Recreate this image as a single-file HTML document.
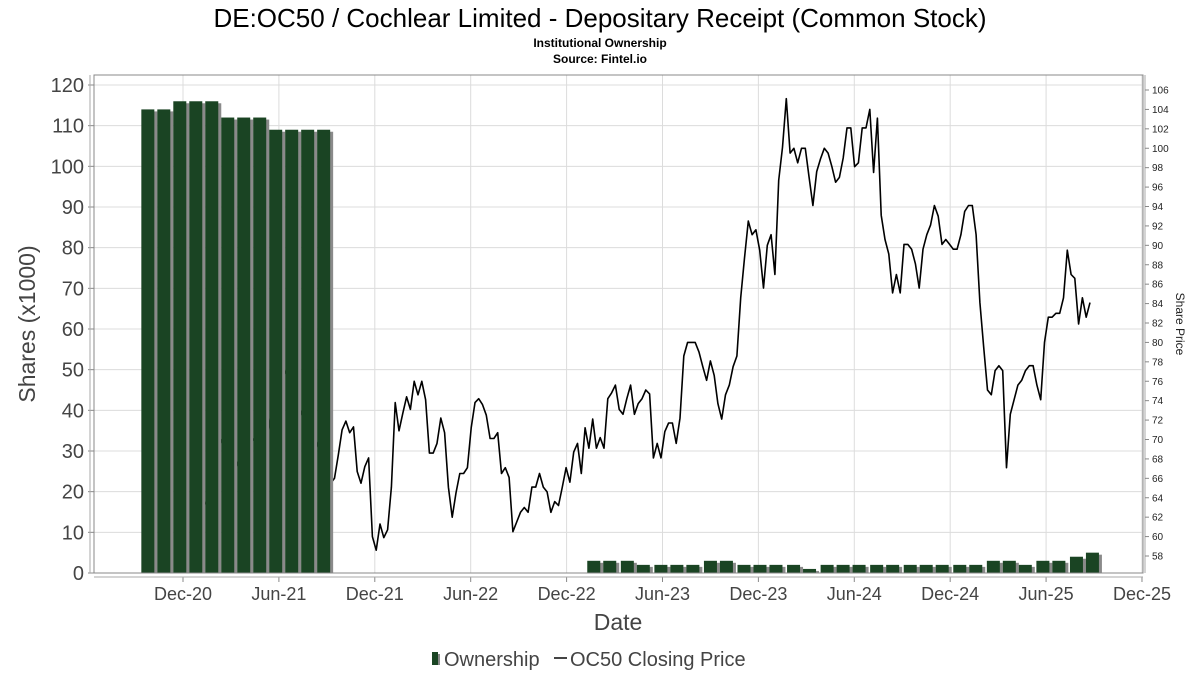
<!DOCTYPE html>
<html><head><meta charset="utf-8">
<style>
body{margin:0;background:#fff;}
svg{display:block;font-family:"Liberation Sans","DejaVu Sans",sans-serif;}
</style></head>
<body>
<svg id="chart" width="1200" height="675" viewBox="0 0 1200 675">
<text x="600" y="27" text-anchor="middle" font-size="26" fill="#000">DE:OC50 / Cochlear Limited - Depositary Receipt (Common Stock)</text>
<text x="600" y="47" text-anchor="middle" font-size="12" font-weight="bold" fill="#000">Institutional Ownership</text>
<text x="600" y="63" text-anchor="middle" font-size="12" font-weight="bold" fill="#000">Source: Fintel.io</text>
<g id="grid"></g>
<g id="line"></g>
<g id="bars"></g>
<rect x="94" y="75" width="1049" height="498" fill="none" stroke="#888" stroke-width="1"/>
<g id="axes"></g>
<text transform="translate(35,324) rotate(-90)" text-anchor="middle" font-size="23" fill="#444">Shares (x1000)</text>
<text transform="translate(1176,324) rotate(90)" text-anchor="middle" font-size="12" fill="#222">Share Price</text>
<text x="618" y="630" text-anchor="middle" font-size="23" fill="#444">Date</text>
<g>
<g>
<rect x="432" y="652" width="6" height="13" fill="#1a4423"/>
<rect x="438" y="654" width="2" height="11" fill="#888"/>
<text x="444" y="666" font-size="20" fill="#444">Ownership</text>
</g>
<g>
<line x1="554" y1="658" x2="567" y2="658" stroke="#444" stroke-width="2"/>
<text x="570" y="666" font-size="20" fill="#444">OC50 Closing Price</text>
</g>
</g>
</svg>
<script>
// x domain in months relative to Dec-2020
const xTickLabels = ["Dec-20","Jun-21","Dec-21","Jun-22","Dec-22","Jun-23","Dec-23","Jun-24","Dec-24","Jun-25","Dec-25"];
const xTickMonths = [0,6,12,18,24,30,36,42,48,54,60];
const yTicks = [0,10,20,30,40,50,60,70,80,90,100,110,120];
const y2Ticks = [58,60,62,64,66,68,70,72,74,76,78,80,82,84,86,88,90,92,94,96,98,100,102,104,106];
const barMonths = [-2.2,-1.2,-0.2,0.8,1.8,2.8,3.8,4.8,5.8,6.8,7.8,8.8,
 25.7,26.7,27.8,28.8,29.9,30.9,31.9,33.0,34.0,35.1,36.1,37.1,38.2,39.2,40.3,41.3,42.3,43.4,44.4,45.5,46.5,47.5,48.6,49.6,50.7,51.7,52.7,53.8,54.8,55.9,56.9];
const barValues = [114,114,116,116,116,112,112,112,109,109,109,109,
 3,3,3,2,2,2,2,3,3,2,2,2,2,1,2,2,2,2,2,2,2,2,2,2,3,3,2,3,3,4,5];
const priceStartMonth = 1.4;
const priceEndMonth = 56.75;
const prices = [63.3,64.8,66.9,68.7,70.0,69.1,68.4,67.7,67.1,68.1,68.9,69.7,70.3,69.8,69.4,69.6,69.7,72.0,74.1,76.1,77.5,77.0,76.1,75.1,74.4,73.0,72.0,71.2,70.8,70.0,68.9,67.4,
66.0,65.5,66.0,68.4,71.0,71.9,70.7,71.3,66.7,65.5,67.2,68.1,60.0,58.6,61.3,59.9,60.7,65.1,73.8,70.9,72.7,74.4,73.1,76.0,74.6,76.0,74.1,68.6,68.6,69.6,72.2,70.7,65.1,62.0,64.5,66.5,66.5,67.1,71.2,73.8,74.2,73.6,72.5,70.1,70.1,70.7,66.5,67.1,66.1,60.5,61.5,62.5,63.0,62.5,65.1,65.1,66.5,65.1,64.6,62.5,63.6,63.2,65.1,67.1,65.6,68.7,
69.6,66.5,71.2,69.1,72.1,69.1,70.2,69.1,74.2,74.8,75.6,73.1,72.6,74.2,75.6,72.6,73.7,74.2,75.1,74.7,68.1,69.6,68.1,70.8,71.7,71.7,69.6,72.2,78.6,80.0,80.0,80.0,79.0,77.5,76.1,78.1,76.6,73.7,72.1,74.6,75.6,77.5,78.6,84.6,88.7,92.5,91.1,91.6,89.5,85.6,90.0,91.1,87.0,96.7,100.1,105.1,99.5,100.0,98.5,100.0,100.0,97.0,94.1,97.6,98.9,100.0,99.5,98.1,96.5,97.0,99.0,102.1,102.1,98.1,98.5,102.1,102.1,104.0,97.5,103.1,93.1,90.6,89.1,85.1,87.0,85.1,90.1,90.1,89.6,88.1,85.6,89.6,91.1,92.1,94.1,93.0,90.1,90.6,90.1,89.6,89.6,91.1,93.5,94.1,94.1,91.1,84.1,79.5,75.1,74.6,77.1,77.6,77.1,67.1,72.6,74.1,75.6,76.1,77.1,77.6,77.6,75.6,74.1,80.0,82.6,82.6,83.0,83.0,84.6,89.5,87.0,86.6,81.9,84.6,82.6,84.1];

const NS="http://www.w3.org/2000/svg";
const PL=94, PR=1143, PT=75, PB=573;
function xs(m){return 183 + m*15.983;}
function ys(v){return 573 - v*(488/120);}
function ys2(p){return 556 - (p-58)*(466/48);}
function mk(tag, attrs, parent){const e=document.createElementNS(NS,tag);for(const k in attrs)e.setAttribute(k,attrs[k]);parent.appendChild(e);return e;}

const grid=document.getElementById('grid');
const axes=document.getElementById('axes');
yTicks.forEach(function(v){
  const y=ys(v);
  const gl=mk('line',{x1:PL,x2:PR,y1:y,y2:y,stroke:'#dcdcdc','stroke-width':1},grid);
  
  
  const t=mk('text',{x:84,y:y+7,'text-anchor':'end','font-size':20,fill:'#444'},axes);
  t.textContent=v;
  
  
  const tk=mk('line',{x1:88,x2:94,y1:y,y2:y,stroke:'#888'},axes);
  
  
});
xTickMonths.forEach(function(m,i){
  const x=xs(m);
  const gl=mk('line',{x1:x,x2:x,y1:PT,y2:PB,stroke:'#dcdcdc','stroke-width':1},grid);
  
  
  const t=mk('text',{x:x,y:600,'text-anchor':'middle','font-size':18,fill:'#444'},axes);
  t.textContent=xTickLabels[i];
  
  
  const tk=mk('line',{x1:x,x2:x,y1:577,y2:582,stroke:'#888'},axes);
  
  
});
const xl=mk('line',{x1:PL,x2:PR,y1:577,y2:577,stroke:'#aaa'},axes);


const yl=mk('line',{x1:90,x2:90,y1:PT,y2:PB,stroke:'#aaa'},axes);


const y2l=mk('line',{x1:1145,x2:1145,y1:PT,y2:PB,stroke:'#aaa'},axes);


y2Ticks.forEach(function(p){
  const y=ys2(p);
  const t=mk('text',{x:1152,y:y+3.5,'font-size':10,fill:'#222'},axes);
  t.textContent=p;
  
  
  const tk=mk('line',{x1:1145,x2:1149,y1:y,y2:y,stroke:'#888'},axes);
  
  
});

// price line
const n=prices.length;
const step=(priceEndMonth-priceStartMonth)/(n-1);
let d='';
prices.forEach(function(p,i){
  const x=xs(priceStartMonth+i*step), y=ys2(p);
  d+=(i?'L':'M')+x.toFixed(1)+','+y.toFixed(1);
});
const path=mk('path',{d:d,fill:'none',stroke:'#000','stroke-width':1.6,'stroke-linejoin':'round'},document.getElementById('line'));



// bars
const bg=document.getElementById('bars');
barMonths.forEach(function(m,i){
  const cx=xs(m), top=ys(barValues[i]), bw=13;
  const sh=mk('rect',{x:cx-bw/2+3,y:top+2,width:bw,height:PB-top-2,fill:'#8a8a8a'},bg);
  
  
  const r=mk('rect',{x:cx-bw/2,y:top,width:bw,height:PB-top,fill:'#1a4423'},bg);
  
  
});
</script>
</body></html>
